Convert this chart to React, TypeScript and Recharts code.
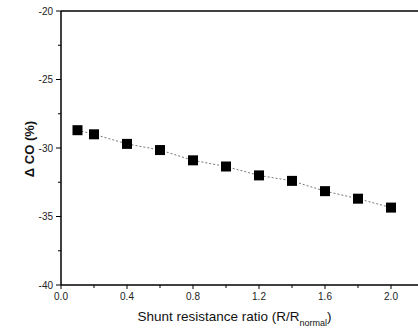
import React from 'react';
import { LineChart, Line, XAxis, YAxis, ReferenceLine } from 'recharts';

// Shunt resistance ratio vs change in CO
const RATIO = [0.1, 0.2, 0.4, 0.6, 0.8, 1.0, 1.2, 1.4, 1.6, 1.8, 2.0];
const DELTA_CO = [-28.7, -29.0, -29.7, -30.15, -30.9, -31.35, -32.0, -32.4, -33.15, -33.7, -34.35];

const X_TICKS = [0, 0.2, 0.4, 0.6, 0.8, 1.0, 1.2, 1.4, 1.6, 1.8, 2.0];
const Y_TICKS = [-40, -37.5, -35, -32.5, -30, -27.5, -25, -22.5, -20];

const data = RATIO.map((r, i) => ({ ratio: r, co: DELTA_CO[i] }));

const TICK_SIZE = 5;
const TICK_MARGIN = 3;
const FONT = '"Liberation Sans", Arial, sans-serif';

const isMajorX = (v: number) => Math.abs(Math.round(v / 0.4) * 0.4 - v) < 1e-6;
const isMajorY = (v: number) => v % 5 === 0;

function YTick(props: any) {
  const { x, y, payload } = props;
  const axisX = x + TICK_SIZE + TICK_MARGIN;
  const major = isMajorY(payload.value);
  return (
    <g>
      <line x1={axisX - (major ? 5 : 3)} x2={axisX} y1={y} y2={y} stroke="#000" strokeWidth={1} />
      {major && (
        <text x={x} y={y} dy="0.35em" textAnchor="end" fontSize={10} fill="#222" fontFamily={FONT}>
          {payload.value}
        </text>
      )}
    </g>
  );
}

function XTick(props: any) {
  const { x, y, payload } = props;
  const axisY = y - TICK_SIZE - TICK_MARGIN;
  const major = isMajorX(payload.value);
  return (
    <g>
      <line x1={x} x2={x} y1={axisY} y2={axisY + (major ? 4 : 3)} stroke="#000" strokeWidth={1} />
      {major && (
        <text x={x} y={y} dy="0.71em" textAnchor="middle" fontSize={10} fill="#222" fontFamily={FONT}>
          {payload.value.toFixed(1)}
        </text>
      )}
    </g>
  );
}

const SquareDot = (props: any) => {
  const { cx, cy, index } = props;
  return <rect key={index} x={cx - 5} y={cy - 5} width={10} height={10} fill="#000" />;
};

export default function App() {
  return (
    <div style={{ position: 'absolute', left: 0, top: 0, width: 418, height: 332, overflow: 'hidden', background: '#fff' }}>
      <LineChart width={430} height={332} data={data} margin={{ top: 11, right: 6, left: 0, bottom: 0 }}>
        <ReferenceLine y={-20} stroke="#000" strokeWidth={1.5} />
        <XAxis
          dataKey="ratio"
          type="number"
          domain={[0, 2.2]}
          ticks={X_TICKS}
          height={47}
          stroke="#000"
          strokeWidth={1.5}
          tickLine={false}
          tickSize={TICK_SIZE}
          tickMargin={TICK_MARGIN}
          tick={<XTick />}
          label={({ viewBox }: any) => (
            <text
              x={viewBox.x + viewBox.width / 2 - 8}
              y={viewBox.y + 36}
              textAnchor="middle"
              fontSize={13.5}
              fill="#111"
              fontFamily={FONT}
            >
              Shunt resistance ratio (R/R
              <tspan fontSize={9} dy={5}>normal</tspan>
              <tspan dy={-5}>)</tspan>
            </text>
          )}
        />
        <YAxis
          type="number"
          domain={[-40, -20]}
          ticks={Y_TICKS}
          width={61}
          stroke="#000"
          strokeWidth={1.5}
          tickLine={false}
          tickSize={TICK_SIZE}
          tickMargin={TICK_MARGIN}
          tick={<YTick />}
          label={({ viewBox }: any) => {
            const cx = viewBox.x + 29;
            const cy = viewBox.y + viewBox.height / 2 + 1;
            return (
              <text
                x={cx}
                y={cy}
                transform={`rotate(-90 ${cx} ${cy})`}
                textAnchor="middle"
                dominantBaseline="central"
                fontSize={13}
                fontWeight="bold"
                fill="#111"
                fontFamily={FONT}
              >
                Δ CO (%)
              </text>
            );
          }}
        />
        <Line
          type="linear"
          dataKey="co"
          stroke="#777"
          strokeWidth={1}
          strokeDasharray="2 2"
          dot={<SquareDot />}
          activeDot={false}
          isAnimationActive={false}
        />
      </LineChart>
    </div>
  );
}
